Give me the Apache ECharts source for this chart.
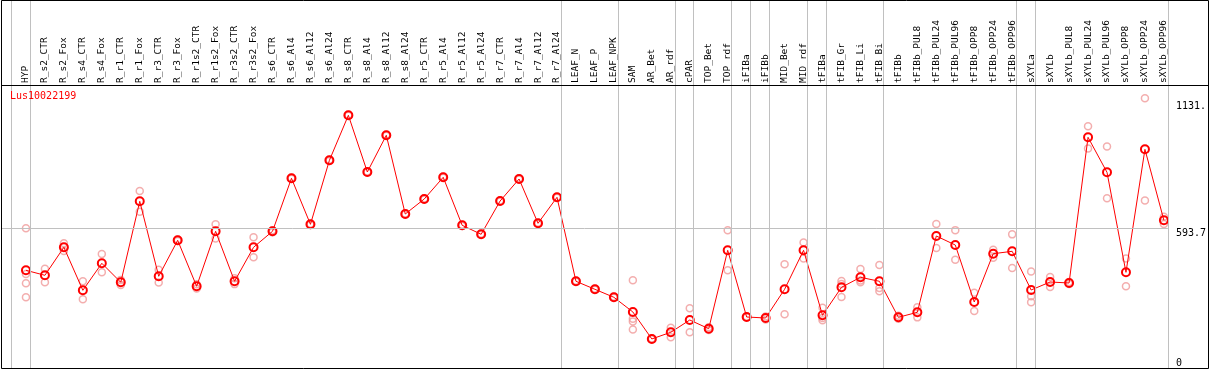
<!DOCTYPE html>
<html><head><meta charset="utf-8">
<script src="https://cdn.jsdelivr.net/npm/echarts@6/dist/echarts.min.js"></script>
<style>html,body{margin:0;padding:0;background:#fff}#c{width:1209px;height:370px}</style>
</head><body><div id="c"></div>
<script>
const chartTitle = 'Lus10022199';
const categories = ['HYP','R_s2_CTR','R_s2_Fox','R_s4_CTR','R_s4_Fox','R_r1_CTR','R_r1_Fox','R_r3_CTR','R_r3_Fox','R_r1s2_CTR','R_r1s2_Fox','R_r3s2_CTR','R_r3s2_Fox','R_s6_CTR','R_s6_Al4','R_s6_Al12','R_s6_Al24','R_s8_CTR','R_s8_Al4','R_s8_Al12','R_s8_Al24','R_r5_CTR','R_r5_Al4','R_r5_Al12','R_r5_Al24','R_r7_CTR','R_r7_Al4','R_r7_Al12','R_r7_Al24','LEAF_N','LEAF_P','LEAF_NPK','SAM','AR_Bet','AR_rdf','cPAR','TOP_Bet','TOP_rdf','iFIBa','iFIBb','MID_Bet','MID_rdf','tFIBa','tFIB_Gr','tFIB_Li','tFIB_Bi','tFIBb','tFIBb_PUL8','tFIBb_PUL24','tFIBb_PUL96','tFIBb_OPP8','tFIBb_OPP24','tFIBb_OPP96','sXYLa','sXYLb','sXYLb_PUL8','sXYLb_PUL24','sXYLb_PUL96','sXYLb_OPP8','sXYLb_OPP24','sXYLb_OPP96'];
const meanValues = [415.6,394.4,513.2,330.8,445.3,364.7,708.2,390.2,542.8,347.8,581.0,369.0,513.2,581.0,805.8,610.7,882.1,1073.0,832.5,988.2,654.4,718.0,810.0,606.5,568.3,709.5,802.8,615.0,725.2,369.0,335.0,301.1,238.8,124.5,152.7,204.8,168.0,500.4,217.6,213.3,335.0,500.4,224.8,343.5,385.9,369.0,216.3,237.5,561.1,522.9,281.2,486.0,496.2,332.1,366.0,361.8,979.7,831.2,407.1,928.8,627.7];
const replicateValues = [
  [594,400,361,301],[422,365],[530,497],[369,293],[485,407],[375,353],[752,664],[418,364],[546,540],[356,338],
  [611,550],[382,357],[556,471],[585,577],[808,804],[613,608],[885,879],[1075,1071],[835,830],[990,986],
  [657,652],[720,716],[812,808],[609,604],[571,566],[712,707],[805,801],[617,613],[727,723],[371,367],
  [337,333],[303,299],[373,210,199,165],[126,123],[172,132],[255,153],[174,162],[585,416],[219,216],[220,207],
  [441,229],[534,466],[257,213,204],[370,358,302],[421,372,365],[438,341,327],[223,210],[259,216],[612,510],[586,460],
  [320,243],[503,469],[568,425],[411,306,280],[387,345],[366,358],[1027,932],[941,721],[466,348],[1145,712],
  [643,612]
];
const yTickValues = [0, 593.7, 1131];
const yTickLabels = ['0', '593.7', '1131.'];
const groupEnds = [-1, 0, 28, 31, 34, 35, 37, 38, 39, 41, 42, 45, 52, 53, 60];

const MONO = 'DejaVu Sans Mono';
const xMin = -25 / 19, xMax = 60 + 4 / 19;
const sepOffset = 4 / 19;
const yMax = 1562;
const yLabel = v => yTickLabels[yTickValues.indexOf(v)];

const chart = echarts.init(document.getElementById('c'), null, {renderer: 'canvas'});
chart.setOption({
  animation: false,
  backgroundColor: '#fff',
  title: {text: chartTitle, left: 10, top: 91, padding: 0,
    textStyle: {color: '#ff0000', fontSize: 10, fontFamily: MONO, fontWeight: 'normal'}},
  grid: {left: 1, right: 39, top: 0, bottom: 1.7, show: false},
  xAxis: [
    {type: 'value', min: xMin, max: xMax, axisLine: {show: false}, axisTick: {show: false},
      axisLabel: {show: false}, splitLine: {show: false}},
    {type: 'value', position: 'top', offset: -85, min: xMin, max: xMax,
      axisLine: {show: false}, axisTick: {show: false}, splitLine: {show: false},
      axisLabel: {customValues: categories.map((_, i) => i), formatter: v => categories[v],
        rotate: 90, margin: 2, fontFamily: MONO, fontSize: 9.5, color: '#000',
        align: 'left', verticalAlign: 'middle', hideOverlap: false}}
  ],
  yAxis: [
    {type: 'value', min: 0, max: yMax, position: 'right',
      axisLine: {show: false}, axisTick: {show: false}, splitLine: {show: false},
      axisLabel: {customValues: yTickValues.slice(1), formatter: yLabel, margin: 8,
        fontFamily: MONO, fontSize: 10, color: '#000', align: 'left', verticalAlign: 'top'}},
    {type: 'value', min: 0, max: yMax, position: 'right',
      axisLine: {show: false}, axisTick: {show: false}, splitLine: {show: false},
      axisLabel: {customValues: yTickValues.slice(0, 1), formatter: yLabel, margin: 8,
        fontFamily: MONO, fontSize: 10, color: '#000', align: 'left', verticalAlign: 'bottom'}}
  ],
  graphic: [
    {type: 'rect', shape: {x: 1.5, y: 0.5, width: 1207, height: 368}, style: {fill: null, stroke: '#000', lineWidth: 1}, z: 100},
    {type: 'line', shape: {x1: 1, y1: 85.5, x2: 1209, y2: 85.5}, style: {stroke: '#000', lineWidth: 1}, z: 100}
  ],
  series: [
    {type: 'line', data: [], z: 1, silent: true,
      markLine: {silent: true, symbol: ['none', 'none'], label: {show: false},
        lineStyle: {color: '#c0c0c0', width: 1, type: 'solid'},
        emphasis: {disabled: true},
        data: groupEnds.map(g => ({xAxis: g + sepOffset})).concat([{yAxis: yTickValues[1]}])}},
    {type: 'scatter', z: 2, symbol: 'circle', symbolSize: 7,
      itemStyle: {color: 'rgba(0,0,0,0)', borderColor: '#f09a9a', borderWidth: 1.5},
      data: replicateValues.flatMap((arr, i) => arr.map(v => [i, v]))},
    {type: 'line', z: 3, symbol: 'circle', symbolSize: 8, showAllSymbol: true,
      color: '#ff0000',
      lineStyle: {color: '#ff0000', width: 1},
      itemStyle: {color: 'rgba(0,0,0,0)', borderColor: '#ff0000', borderWidth: 2},
      data: meanValues.map((v, i) => [i, v])}
  ]
});
</script></body></html>
